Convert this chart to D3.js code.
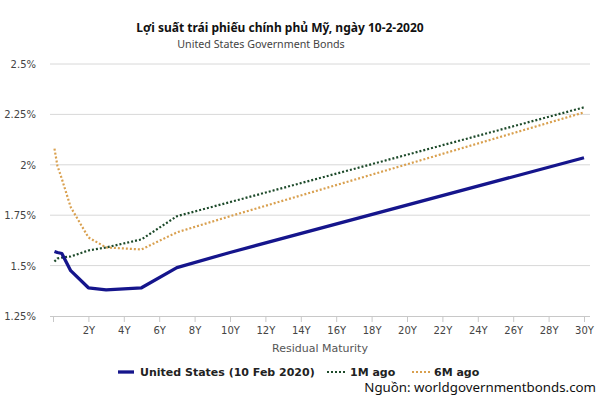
<!DOCTYPE html>
<html><head><meta charset="utf-8">
<script src="https://cdn.jsdelivr.net/npm/d3@7"></script>
<style>body{margin:0;background:#fff}svg{display:block}</style>
</head><body>
<svg id="c" width="600" height="400"></svg>
<script>
const maturities = [1/12, 0.25, 0.5, 1, 2, 3, 5, 7, 10, 30];
const usNow   = [1.57, 1.565, 1.56, 1.475, 1.39, 1.38, 1.39, 1.49, 1.565, 2.035];
const us1M    = [1.52, 1.535, 1.54, 1.545, 1.575, 1.59, 1.63, 1.745, 1.815, 2.285];
const us6M    = [2.08, 1.995, 1.93, 1.79, 1.64, 1.59, 1.58, 1.665, 1.745, 2.26];
const yTicks  = [1.25, 1.5, 1.75, 2, 2.25, 2.5];
const yTickLabels = ["1.25%", "1.5%", "1.75%", "2%", "2.25%", "2.5%"];
const xTicks  = [0, 2, 4, 6, 8, 10, 12, 14, 16, 18, 20, 22, 24, 26, 28, 30];
const seriesNames = ["United States (10 Feb 2020)", "1M ago", "6M ago"];

const svg = d3.select("#c");
const x = d3.scaleLinear().domain([0, 30]).range([53, 584]);
const y = d3.scaleLinear().domain([1.25, 2.5]).range([316, 64]);
const font = "DejaVu Sans, Verdana, sans-serif";

// title
svg.append("text").attr("x", 280).attr("y", 32).attr("text-anchor", "middle")
  .attr("font-family", "Noto Sans, Open Sans, sans-serif").attr("font-weight", "bold")
  .attr("font-size", 12).attr("fill", "#111").text("Lợi suất trái phiếu chính phủ Mỹ, ngày 10-2-2020");
svg.append("text").attr("x", 261).attr("y", 48).attr("text-anchor", "middle")
  .attr("font-family", "Noto Sans, Open Sans, sans-serif")
  .attr("font-size", 10.7).attr("fill", "#444").text("United States Government Bonds");

// gridlines
svg.append("g").selectAll("line").data(yTicks.slice(1)).join("line")
  .attr("x1", 50).attr("x2", 590).attr("y1", d => y(d)).attr("y2", d => y(d))
  .attr("stroke", "#d8d8d8").attr("stroke-width", 1);

// y labels
svg.append("g").selectAll("text").data(yTicks).join("text")
  .attr("x", 36).attr("y", d => y(d) + 4).attr("text-anchor", "end")
  .attr("font-family", font).attr("font-size", 10).attr("fill", "#444")
  .text((d, i) => yTickLabels[i]);

// x axis
const xAxis = d3.axisBottom(x).tickValues(xTicks).tickSize(6)
  .tickFormat(d => d === 0 ? "" : d + "Y");
const gx = svg.append("g").attr("transform", `translate(0,${y(1.25)})`).call(xAxis);
gx.select(".domain").attr("d", "M50,0.5H590").attr("stroke", "#c8c8c8");
gx.selectAll(".tick line").attr("stroke", "#c8c8c8");
gx.selectAll(".tick text").attr("font-family", font).attr("font-size", 10).attr("fill", "#444").attr("dy", "0.9em");

svg.append("text").attr("x", 320).attr("y", 352).attr("text-anchor", "middle")
  .attr("font-family", font).attr("font-size", 11).attr("fill", "#555").text("Residual Maturity");

// lines
const line = vals => d3.line().x((d, i) => x(maturities[i])).y(d => y(d))(vals);
svg.append("path").attr("d", line(us6M)).attr("fill", "none")
  .attr("stroke", "#d9a04f").attr("stroke-width", 2.2).attr("stroke-dasharray", "2,2");
svg.append("path").attr("d", line(us1M)).attr("fill", "none")
  .attr("stroke", "#1d4a2a").attr("stroke-width", 2.2).attr("stroke-dasharray", "2,2");
svg.append("path").attr("d", line(usNow)).attr("fill", "none")
  .attr("stroke", "#15158c").attr("stroke-width", 3.3).attr("stroke-linejoin", "round");

// legend
const lg = svg.append("g").attr("font-family", font).attr("font-weight", "bold").attr("font-size", 11).attr("fill", "#222");
lg.append("line").attr("x1", 118).attr("x2", 134).attr("y1", 372).attr("y2", 372).attr("stroke", "#15158c").attr("stroke-width", 3.3);
lg.append("text").attr("x", 140).attr("y", 376).text(seriesNames[0]);
lg.append("line").attr("x1", 327).attr("x2", 345).attr("y1", 372).attr("y2", 372).attr("stroke", "#1d4a2a").attr("stroke-width", 2).attr("stroke-dasharray", "2,2");
lg.append("text").attr("x", 350).attr("y", 376).text(seriesNames[1]);
lg.append("line").attr("x1", 412).attr("x2", 430).attr("y1", 372).attr("y2", 372).attr("stroke", "#d9a04f").attr("stroke-width", 2).attr("stroke-dasharray", "2,2");
lg.append("text").attr("x", 434).attr("y", 376).text(seriesNames[2]);

// source
svg.append("text").attr("x", 596).attr("y", 392).attr("text-anchor", "end")
  .attr("font-family", "Noto Sans, Open Sans, sans-serif").attr("font-size", 13.3).attr("fill", "#111")
  .text("Nguồn: worldgovernmentbonds.com");
</script>
</body></html>
